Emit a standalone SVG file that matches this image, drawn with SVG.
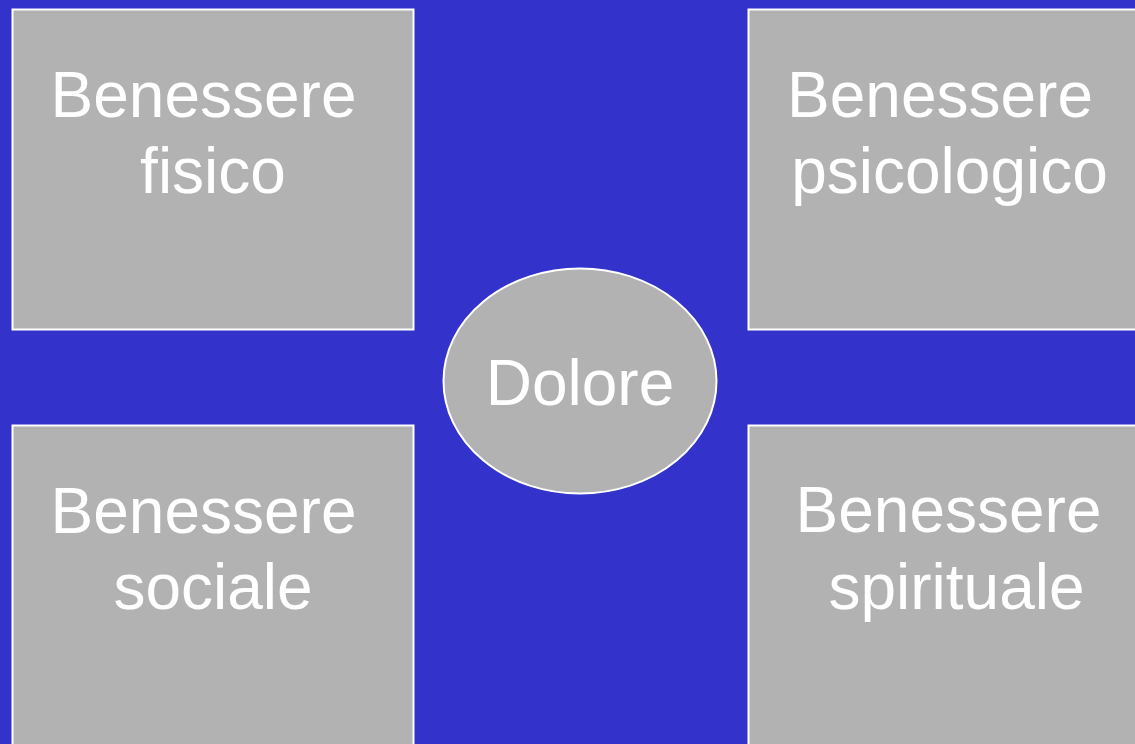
<svg xmlns="http://www.w3.org/2000/svg" width="1135" height="744" viewBox="0 0 1135 744">
<style>
.box{fill:#B2B2B2;stroke:#FFFFFF;stroke-width:2}
.lbl{font-family:"Liberation Sans",Arial,sans-serif;font-size:64px;fill:#FFFFFF;text-anchor:middle}
</style>
<rect x="0" y="0" width="1135" height="744" fill="#3333CC"/>
<g id="connectors"></g>
<g id="fisico">
<rect class="box" x="12.5" y="9.5" width="401" height="320"/>
<text class="lbl" x="203.5" y="117">Benessere</text>
<text class="lbl" x="213" y="193">fisico</text>
</g>
<g id="psicologico">
<rect class="box" x="748.5" y="9.5" width="400" height="320"/>
<text class="lbl" x="940" y="117">Benessere</text>
<text class="lbl" x="949.5" y="193">psicologico</text>
</g>
<g id="sociale">
<rect class="box" x="12.5" y="425.5" width="401" height="330"/>
<text class="lbl" x="203.5" y="533">Benessere</text>
<text class="lbl" x="213" y="609">sociale</text>
</g>
<g id="spirituale">
<rect class="box" x="748.5" y="425.5" width="400" height="330"/>
<text class="lbl" x="948.5" y="532">Benessere</text>
<text class="lbl" x="956.5" y="609">spirituale</text>
</g>
<g id="dolore">
<ellipse class="box" cx="580" cy="381" rx="136.5" ry="112.5"/>
<text class="lbl" x="580" y="405">Dolore</text>
</g>
</svg>
